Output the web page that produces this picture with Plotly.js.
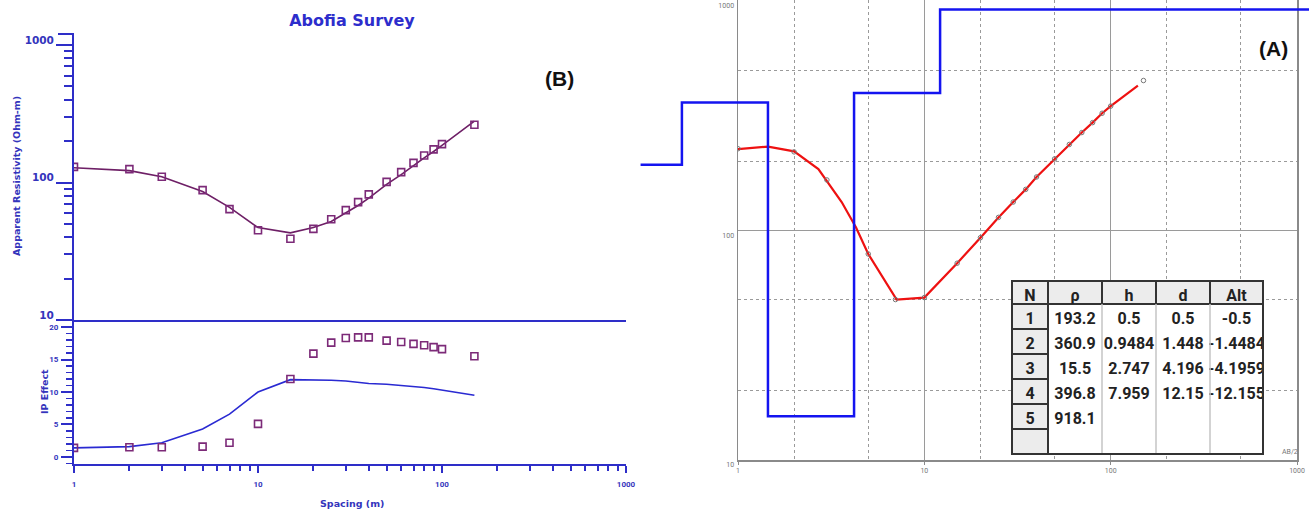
<!DOCTYPE html>
<html>
<head>
<meta charset="utf-8">
<script src="https://cdn.plot.ly/plotly-3.0.1.min.js"></script>
<style>html,body{margin:0;padding:0;background:#fff;}#chart{width:1309px;height:511px;}</style>
</head>
<body>
<div id="chart"></div>
<script>
// ---------------- DATA ----------------
// Panel (B): Abofia Survey
const spacingB   = [1, 2, 3, 5, 7, 10, 15, 20, 25, 30, 35, 40, 50, 60, 70, 80, 90, 100, 150];
const rhoObsB    = [130, 125, 110, 88, 64, 45, 39, 46, 54, 63, 72, 82, 101, 119, 139, 157, 174, 190, 263];
const rhoModelB  = [128, 122, 110, 86, 66, 47, 43, 47, 52, 60, 68, 77, 97, 114, 133, 151, 168, 186, 280];
const ipObsB     = [1.4, 1.5, 1.5, 1.6, 2.2, 5.1, 12.0, 15.9, 17.6, 18.3, 18.4, 18.4, 17.9, 17.7, 17.4, 17.2, 16.9, 16.6, 15.5];
const ipModelB   = [1.4, 1.6, 2.2, 4.3, 6.6, 10.0, 11.9, 11.9, 11.8, 11.7, 11.5, 11.3, 11.2, 11.0, 10.9, 10.7, 10.5, 10.3, 9.5];

// Panel (A): VES curve and layered model
const spacingA      = [1, 2, 3, 5, 7, 10, 15, 20, 25, 30, 35, 40, 50, 60, 70, 80, 90, 100, 150];
const rhoObsA       = [227, 220, 166, 79, 50, 51, 72, 93, 114, 133, 151, 171, 205, 237, 267, 295, 324, 348, 450];
const modelSpacingA = [1, 1.45, 2, 2.7, 3.6, 4.3, 5, 7.1, 10, 15, 20, 25, 30, 35, 40, 50, 60, 70, 80, 90, 100, 140];
const rhoModelA     = [226, 232, 221, 185, 133, 103, 79, 50, 51, 72, 93, 114, 133, 151, 171, 205, 237, 267, 295, 324, 348, 428];

// Layer table
const layerN     = ['1', '2', '3', '4', '5', ''];
const layerRho   = [193.2, 360.9, 15.5, 396.8, 918.1];
const layerH     = [0.5, 0.9484, 2.747, 7.959];
const layerD     = [0.5, 1.448, 4.196, 12.15];
const layerAlt   = [-0.5, -1.4484, -4.1959, -12.155];
const tableHeader = ['N', 'ρ', 'h', 'd', 'Alt'];
const profileStart = 0.3;   // where the drawn model profile begins
const profileEnd   = 5000;  // last layer extends beyond the frame

// ---------------- HELPERS ----------------
const W = 1309, H = 511;
const fx = p => p / W;
const fy = p => 1 - p / H;
function logMinor(mults, decades) {
  const out = [];
  decades.forEach(d => mults.forEach(m => out.push(m * d)));
  return out;
}
const allMinor = logMinor([2,3,4,5,6,7,8,9], [1, 10, 100]);
const col = (arr, n) => { const o = []; for (let i = 0; i < n; i++) o.push(i < arr.length ? String(arr[i]) : ''); return o; };

// ---------------- STYLE ----------------
const BLUE = '#2e2ec8';
const TXT  = '#3434bc';
const PURPLE = '#6e1f66';
const SQ = '#7c2a78';
const GRID = '#9a9a9a';
const fB  = {family: 'DejaVu Sans', size: 10.5, color: TXT, weight: 'bold'};
const fBs = {family: 'Roboto, DejaVu Sans', size: 8, color: TXT, weight: 'bold'};
const fA  = {family: 'Roboto, DejaVu Sans', size: 7, color: '#777'};
const tFont = {family: 'Roboto, Liberation Sans, sans-serif', size: 16, color: '#222', weight: 'bold'};

// step profile from table
const stepX = [profileStart].concat(layerD).concat([profileEnd]);
const stepY = layerRho.concat([layerRho[layerRho.length - 1]]);

const traces = [
  // Panel A: layered model (blue step)
  {x: stepX, y: stepY, xaxis: 'x7', yaxis: 'y7', mode: 'lines', line: {color: '#1414f0', width: 2.5, shape: 'hv'}},
  // Panel B top: apparent resistivity
  {x: spacingB, y: rhoModelB, xaxis: 'x2', yaxis: 'y2', mode: 'lines', line: {color: PURPLE, width: 1.6}},
  {x: spacingB, y: rhoObsB, xaxis: 'x2', yaxis: 'y2', mode: 'markers',
   marker: {symbol: 'square-open', size: 7, color: SQ, line: {width: 1.6, color: SQ}}},
  // Panel B bottom: IP effect
  {x: spacingB, y: ipModelB, xaxis: 'x', yaxis: 'y', mode: 'lines', line: {color: '#2a2ad2', width: 1.6}},
  {x: spacingB, y: ipObsB, xaxis: 'x', yaxis: 'y', mode: 'markers',
   marker: {symbol: 'square-open', size: 7, color: SQ, line: {width: 1.6, color: SQ}}},
  // Panel A: computed curve and observed points
  {x: modelSpacingA, y: rhoModelA, xaxis: 'x5', yaxis: 'y5', mode: 'lines', line: {color: '#ee1111', width: 2.2}},
  {x: spacingA, y: rhoObsA, xaxis: 'x5', yaxis: 'y5', mode: 'markers',
   marker: {symbol: 'circle-open', size: 4.5, color: '#777', line: {width: 1, color: '#777'}}},
  // Table
  {
    type: 'table',
    domain: {x: [fx(1012), fx(1263)], y: [fy(455), fy(281)]},
    columnwidth: [36, 54, 54, 54, 53],
    header: {
      values: tableHeader,
      align: 'center', height: 23,
      fill: {color: '#ececec'},
      line: {color: '#333', width: 1.5},
      font: tFont
    },
    cells: {
      values: [layerN, col(layerRho, 6), col(layerH, 6), col(layerD, 6), col(layerAlt, 6)],
      align: 'center', height: 25,
      fill: {color: ['#ececec', 'white', 'white', 'white', 'white']},
      line: {color: ['#333', 'white', 'white', 'white', 'white'], width: 1.5},
      font: tFont
    }
  }
];

const bLine = {showline: true, linecolor: BLUE, linewidth: 2, showgrid: false, zeroline: false};
const ipRange = [-1.08, 21.08];
const rhoBRange = [1, 3.08];
const aXRange = [0, 3];
const aYRange = [1, 3.004];
const decA = (1297 - 738) / 3;

const layout = {
  width: W, height: H,
  margin: {l: 0, r: 0, t: 0, b: 0},
  paper_bgcolor: '#ffffff',
  plot_bgcolor: 'rgba(0,0,0,0)',
  showlegend: false,
  title: {text: 'Abofia Survey', x: fx(352), xanchor: 'center', y: fy(20), yanchor: 'middle',
          xref: 'paper', yref: 'paper', font: {family: 'DejaVu Sans', size: 16, color: '#2d2dcc', weight: 'bold'}},
  // ---- Panel B, IP (bottom) ----
  xaxis: Object.assign({}, bLine, {
    domain: [fx(74), fx(626)], anchor: 'y', type: 'log', range: [0, 3],
    tickmode: 'array', tickvals: [1, 10, 100, 1000], ticktext: ['1', '10', '100', '1000'],
    ticks: 'outside', ticklen: 7, tickwidth: 2, tickcolor: BLUE, tickfont: fBs, ticklabelstandoff: 4,
    minor: {tickmode: 'array', tickvals: allMinor, ticks: 'outside', ticklen: 5, tickwidth: 2, tickcolor: BLUE, showgrid: false}
  }),
  yaxis: Object.assign({}, bLine, {
    domain: [fy(464), fy(320)], anchor: 'x', range: ipRange,
    tickmode: 'array', tickvals: [0, 5, 10, 15, 20],
    ticks: 'outside', ticklen: 11, tickwidth: 2, tickcolor: BLUE, tickfont: fBs, ticklabelstandoff: 1,
    minor: {dtick: 1, ticks: 'outside', ticklen: 6, tickwidth: 1.5, tickcolor: BLUE, showgrid: false}
  }),
  xaxis4: Object.assign({}, bLine, {
    overlaying: 'x', anchor: 'y', side: 'top', type: 'log', range: [0, 3],
    tickmode: 'array', tickvals: [10, 100], ticks: 'inside', ticklen: 7, tickwidth: 2, tickcolor: BLUE, showticklabels: false
  }),
  yaxis4: Object.assign({}, bLine, {
    overlaying: 'y', anchor: 'x', side: 'right', range: ipRange,
    tickmode: 'array', tickvals: [5, 10, 15], ticks: 'inside', ticklen: 15, tickwidth: 2, tickcolor: BLUE, showticklabels: false
  }),
  // ---- Panel B, resistivity (top) ----
  xaxis2: Object.assign({}, bLine, {
    domain: [fx(74), fx(626)], anchor: 'y2', type: 'log', range: [0, 3],
    showticklabels: false, ticks: ''
  }),
  yaxis2: Object.assign({}, bLine, {
    domain: [fy(320), fy(34)], anchor: 'x2', type: 'log', range: rhoBRange,
    tickmode: 'array', tickvals: [10, 100, 1000], ticktext: ['10', '100', '1000'],
    ticks: 'outside', ticklen: 16, tickwidth: 2, tickcolor: BLUE, tickfont: fB, ticklabelshift: -5,
    minor: {tickmode: 'array', tickvals: logMinor([2,3,4,5,6,7,8,9], [10, 100]), ticks: 'outside', ticklen: 8, tickwidth: 2, tickcolor: BLUE, showgrid: false}
  }),
  xaxis3: Object.assign({}, bLine, {
    overlaying: 'x2', anchor: 'y2', side: 'top', type: 'log', range: [0, 3],
    tickmode: 'array', tickvals: [10, 100], ticks: 'inside', ticklen: 8, tickwidth: 2, tickcolor: BLUE, showticklabels: false
  }),
  yaxis3: Object.assign({}, bLine, {
    overlaying: 'y2', anchor: 'x2', side: 'right', type: 'log', range: rhoBRange,
    tickmode: 'array', tickvals: [100], ticks: 'inside', ticklen: 15, tickwidth: 2, tickcolor: BLUE, showticklabels: false
  }),
  // ---- Panel A ----
  xaxis5: {
    domain: [fx(738), fx(1297)], anchor: 'y5', type: 'log', range: aXRange,
    showline: true, mirror: true, linecolor: '#8a8a8a', linewidth: 1.5, zeroline: false,
    tickmode: 'array', tickvals: [1, 10, 100, 1000], ticktext: ['1', '10', '100', '1000'],
    ticks: 'outside', ticklen: 3, tickcolor: '#8a8a8a', tickfont: fA,
    showgrid: true, gridcolor: GRID, gridwidth: 1,
    minor: {tickmode: 'array', tickvals: [2, 5, 20, 50, 200, 500], ticks: '', showgrid: true, gridcolor: GRID, griddash: 'dot', gridwidth: 1}
  },
  yaxis5: {
    domain: [fy(460), fy(0)], anchor: 'x5', type: 'log', range: aYRange,
    showline: true, mirror: true, linecolor: '#8a8a8a', linewidth: 1.5, zeroline: false,
    tickmode: 'array', tickvals: [10, 100, 1000], ticktext: ['10', '100', '1000'],
    ticks: '', tickfont: fA, ticklabelstandoff: 1, ticklabelposition: 'outside bottom',
    showgrid: true, gridcolor: GRID, gridwidth: 1,
    minor: {tickmode: 'array', tickvals: [20, 50, 200, 500], ticks: '', showgrid: true, gridcolor: GRID, griddash: 'dot', gridwidth: 1}
  },
  xaxis6: {
    overlaying: 'x5', anchor: 'y5', side: 'bottom', type: 'log', range: aXRange,
    showline: false, showgrid: false, zeroline: false, showticklabels: false,
    tickmode: 'array', tickvals: allMinor, ticks: 'inside', ticklen: 4, tickcolor: '#8a8a8a'
  },
  yaxis6: {
    overlaying: 'y5', anchor: 'x5', side: 'left', type: 'log', range: aYRange,
    showline: false, showgrid: false, zeroline: false, showticklabels: false,
    tickmode: 'array', tickvals: logMinor([2,3,4,5,6,7,8,9], [10, 100]), ticks: 'inside', ticklen: 4, tickcolor: '#8a8a8a'
  },
  xaxis7: {
    domain: [fx(620), 1], anchor: 'y7', type: 'log',
    range: [(620 - 738) / decA, (1309 - 738) / decA], visible: false, showgrid: false, zeroline: false
  },
  yaxis7: {
    domain: [fy(460), fy(0)], anchor: 'x7', type: 'log', range: aYRange,
    visible: false, showgrid: false, zeroline: false
  },
  shapes: [
    // extension of the top frame line of panel B
    {type: 'line', xref: 'paper', yref: 'paper', x0: fx(58), x1: fx(74), y0: fy(34), y1: fy(34), line: {color: BLUE, width: 2}},
    // table inner column rules and outline
    {type: 'line', xref: 'paper', yref: 'paper', x0: fx(1102), x1: fx(1102), y0: fy(304), y1: fy(454), line: {color: '#c4c4c4', width: 1.5}},
    {type: 'line', xref: 'paper', yref: 'paper', x0: fx(1156), x1: fx(1156), y0: fy(304), y1: fy(454), line: {color: '#c4c4c4', width: 1.5}},
    {type: 'line', xref: 'paper', yref: 'paper', x0: fx(1210), x1: fx(1210), y0: fy(304), y1: fy(454), line: {color: '#c4c4c4', width: 1.5}},
    {type: 'line', xref: 'paper', yref: 'paper', x0: fx(1048), x1: fx(1048), y0: fy(281), y1: fy(454), line: {color: '#333', width: 2}},
    {type: 'rect', xref: 'paper', yref: 'paper', x0: fx(1012), x1: fx(1263), y0: fy(454), y1: fy(281), line: {color: '#333', width: 2}}
  ],
  annotations: [
    {text: 'Apparent Resistivity (Ohm-m)', xref: 'paper', yref: 'paper', x: fx(16), y: fy(176), textangle: -90,
     showarrow: false, xanchor: 'center', yanchor: 'middle', font: {family: 'DejaVu Sans', size: 9.5, color: TXT, weight: 'bold'}},
    {text: 'IP Effect', xref: 'paper', yref: 'paper', x: fx(44), y: fy(392), textangle: -90,
     showarrow: false, xanchor: 'center', yanchor: 'middle', font: {family: 'DejaVu Sans', size: 9.5, color: TXT, weight: 'bold'}},
    {text: 'Spacing (m)', xref: 'paper', yref: 'paper', x: fx(352), y: fy(503),
     showarrow: false, xanchor: 'center', yanchor: 'middle', font: {family: 'DejaVu Sans', size: 9.5, color: TXT, weight: 'bold'}},
    {text: '(B)', xref: 'paper', yref: 'paper', x: fx(559), y: fy(78),
     showarrow: false, xanchor: 'center', yanchor: 'middle', font: {family: 'Liberation Sans, Arial, sans-serif', size: 21, color: '#111', weight: 'bold'}},
    {text: '(A)', xref: 'paper', yref: 'paper', x: fx(1273), y: fy(48),
     showarrow: false, xanchor: 'center', yanchor: 'middle', font: {family: 'Liberation Sans, Arial, sans-serif', size: 21, color: '#111', weight: 'bold'}},
    {text: 'AB/2', xref: 'paper', yref: 'paper', x: fx(1290), y: fy(452),
     showarrow: false, xanchor: 'center', yanchor: 'middle', font: {family: 'Roboto, DejaVu Sans', size: 7, color: '#777'}}
  ]
};

Plotly.newPlot('chart', traces, layout, {staticPlot: true, displayModeBar: false});
</script>
</body>
</html>
